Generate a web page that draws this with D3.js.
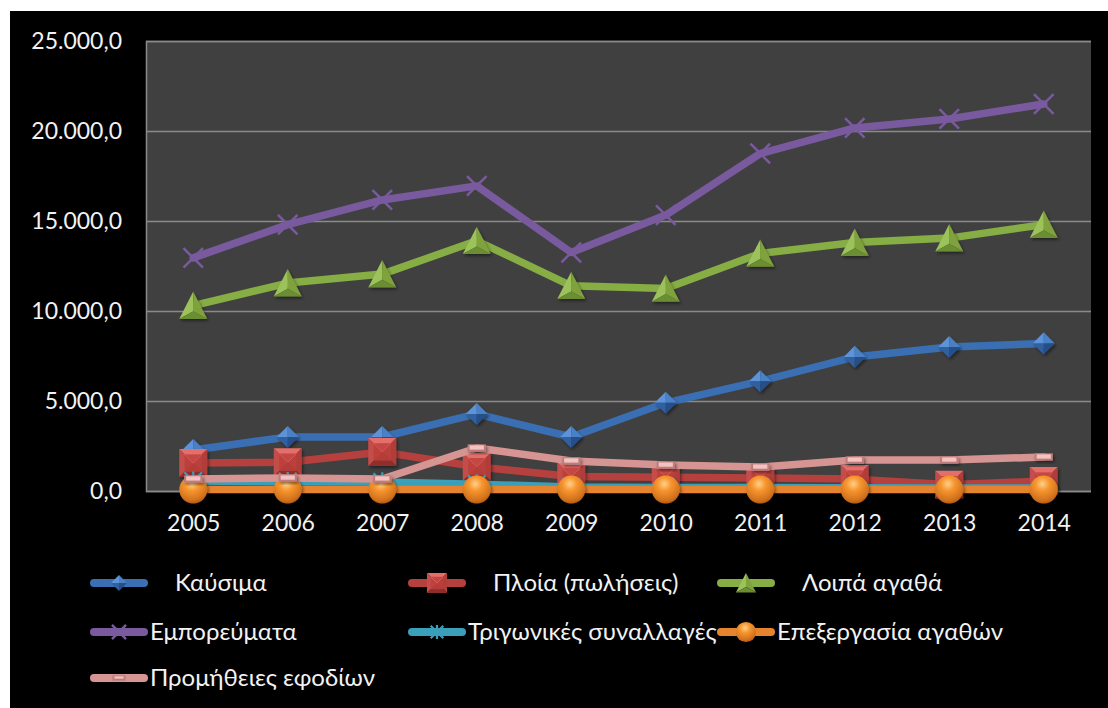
<!DOCTYPE html>
<html>
<head>
<meta charset="utf-8">
<script src="https://cdn.jsdelivr.net/npm/d3@7"></script>
<style>
  html, body { margin: 0; padding: 0; background: #ffffff; }
  svg { display: block; }
  text { font-family: Lato, "Open Sans", sans-serif; fill: #f2f2f2; }
</style>
</head>
<body>
<svg id="chart" width="1108" height="708"></svg>
<script>
// Years on the category axis
const years = ["2005", "2006", "2007", "2008", "2009", "2010", "2011", "2012", "2013", "2014"];

// Series values (εκατ. ευρώ)
const kafsima      = [2280, 3000, 3000, 4280, 3000, 4900, 6100, 7450, 8000, 8200];
const ploia        = [1550, 1600, 2170, 1350, 800, 760, 720, 660, 350, 550];
const loipa        = [10300, 11550, 12050, 13900, 11400, 11250, 13200, 13800, 14050, 14800];
const emporevmata  = [12950, 14800, 16170, 16950, 13250, 15330, 18750, 20170, 20670, 21500];
const trigonikes   = [550, 520, 500, 380, 220, 200, 200, 180, 170, 170];
const epexergasia  = [80, 80, 80, 80, 80, 80, 80, 80, 80, 80];
const promitheies  = [670, 720, 670, 2390, 1670, 1440, 1330, 1720, 1720, 1890];

const seriesNames = ["Καύσιμα", "Πλοία (πωλήσεις)", "Λοιπά αγαθά", "Εμπορεύματα",
                     "Τριγωνικές συναλλαγές", "Επεξεργασία αγαθών", "Προμήθειες εφοδίων"];
const seriesValues = [kafsima, ploia, loipa, emporevmata, trigonikes, epexergasia, promitheies];

// Y axis ticks
const yTicks = [0, 5000, 10000, 15000, 20000, 25000];

const colors  = ["#3b6fb4", "#b5403e", "#87ad45", "#7a5a9f", "#3a9fb8", "#e5832f", "#d69593"];
const markers = ["diamond", "square", "triangle", "cross", "star", "circle", "dash"];

const svg = d3.select("#chart");
const defs = svg.append("defs");

// Orange sphere gradient
const rg = defs.append("radialGradient").attr("id", "sphere")
  .attr("cx", "45%").attr("cy", "30%").attr("r", "70%");
rg.append("stop").attr("offset", "0%").attr("stop-color", "#ffd08a");
rg.append("stop").attr("offset", "35%").attr("stop-color", "#f7962f");
rg.append("stop").attr("offset", "85%").attr("stop-color", "#d0701c");
rg.append("stop").attr("offset", "100%").attr("stop-color", "#b35c12");

const shadow = defs.append("filter").attr("id", "shadow")
  .attr("x", "-30%").attr("y", "-30%").attr("width", "170%").attr("height", "170%");
shadow.append("feDropShadow").attr("dx", 1.5).attr("dy", 2).attr("stdDeviation", 1.5)
  .attr("flood-color", "#000").attr("flood-opacity", 0.45);

// Outer black chart area
svg.append("rect").attr("x", 10).attr("y", 11).attr("width", 1098).attr("height", 697).attr("fill", "#000");

const plot = { left: 146, right: 1091, top: 41, bottom: 491 };

const x = d3.scalePoint().domain(years).range([plot.left, plot.right]).padding(0.5);
const y = d3.scaleLinear().domain([0, 25000]).range([plot.bottom, plot.top]);

// Plot background
svg.append("rect")
  .attr("x", plot.left).attr("y", plot.top)
  .attr("width", plot.right - plot.left).attr("height", plot.bottom - plot.top)
  .attr("fill", "#404040");

// Horizontal gridlines and left axis
const yAxis = d3.axisLeft(y).tickValues(yTicks)
  .tickSize(-(plot.right - plot.left)).tickPadding(24)
  .tickFormat(d => d3.format(",.1f")(d).replace(/,/g, "#").replace(".", ",").replace(/#/g, "."));
const gy = svg.append("g").attr("transform", `translate(${plot.left},0)`).call(yAxis);
gy.select(".domain").attr("stroke", "#8a8a8a").attr("stroke-width", 1.5);
gy.selectAll(".tick line").attr("stroke", "#8a8a8a").attr("stroke-width", 1.5);
gy.selectAll(".tick text").attr("font-size", 23).attr("fill", "#f2f2f2")
  .attr("font-family", "Lato, 'Open Sans', sans-serif");

// Category labels
const xAxis = d3.axisBottom(x).tickSize(0).tickPadding(24);
const gx = svg.append("g").attr("transform", `translate(0,${plot.bottom})`).call(xAxis);
gx.select(".domain").remove();
gx.selectAll(".tick text").attr("font-size", 23).attr("fill", "#f2f2f2")
  .attr("font-family", "Lato, 'Open Sans', sans-serif");

// Marker drawing with faceted, bevelled look
function drawMarker(g, type, color, s) {
  const h = s / 2;
  if (type === "diamond") {
    const a = h * 0.85;
    const facets = [
      [[0, -a], [-a, 0], [0, 0], "#5d93d8"],
      [[0, -a], [a, 0], [0, 0], "#4a80c6"],
      [[-a, 0], [0, a], [0, 0], "#30609f"],
      [[a, 0], [0, a], [0, 0], "#264f88"]
    ];
    facets.forEach(f => g.append("path").attr("d", `M${f[0]}L${f[1]}L${f[2]}Z`).attr("fill", f[3]));
  } else if (type === "square") {
    const facets = [
      [[-h, -h], [h, -h], "#e66e6a"],
      [[h, -h], [h, h], "#b13e3b"],
      [[h, h], [-h, h], "#8f2d2b"],
      [[-h, h], [-h, -h], "#c44d4a"]
    ];
    facets.forEach(f => g.append("path").attr("d", `M${f[0]}L${f[1]}L0,0Z`).attr("fill", f[2]));
    g.append("rect").attr("x", -h * 0.62).attr("y", -h * 0.62).attr("width", h * 1.24).attr("height", h * 1.24)
      .attr("fill", "#bc3f3c").attr("opacity", 0.85);
    g.append("path").attr("d", `M${-h * 0.62},${-h * 0.62}L0,0L${h * 0.62},${-h * 0.62}`)
      .attr("fill", "none").attr("stroke", "#d85a57").attr("stroke-width", 1);
  } else if (type === "triangle") {
    const t = [0, -h], l = [-h, h * 0.95], r = [h, h * 0.95], c = [0, h * 0.4];
    g.append("path").attr("d", `M${t}L${l}L${c}Z`).attr("fill", "#9cc25c");
    g.append("path").attr("d", `M${t}L${r}L${c}Z`).attr("fill", "#7fa23d");
    g.append("path").attr("d", `M${l}L${r}L${c}Z`).attr("fill", "#6c8e32");
  } else if (type === "cross") {
    const a = h * 0.85;
    g.append("path").attr("d", `M${-a},${-a}L${a},${a}M${a},${-a}L${-a},${a}`)
      .attr("stroke", color).attr("stroke-width", 2.5).attr("fill", "none");
  } else if (type === "star") {
    const a = h * 0.8;
    g.append("path").attr("d", `M${-a},${-a}L${a},${a}M${a},${-a}L${-a},${a}M0,${-a * 1.1}L0,${a * 1.1}`)
      .attr("stroke", color).attr("stroke-width", 2.2).attr("fill", "none");
  } else if (type === "circle") {
    g.append("circle").attr("r", h).attr("fill", "url(#sphere)");
  } else if (type === "dash") {
    const w = s * 0.65, hh = s * 0.26;
    g.append("rect").attr("x", -w / 2).attr("y", -hh / 2).attr("width", w).attr("height", hh)
      .attr("fill", "#c07c7a");
    g.append("rect").attr("x", -w / 2 + 2).attr("y", -hh / 2 + 1).attr("width", w - 4).attr("height", hh - 3)
      .attr("fill", "#f2c3c2");
  }
}

const markerSize = [26, 28, 28, 23, 22, 28, 28];

const line = d3.line().x((d, i) => x(years[i])).y(d => y(d));

seriesValues.forEach((vals, si) => {
  const g = svg.append("g");
  g.append("path").datum(vals).attr("d", line)
    .attr("fill", "none").attr("stroke", colors[si]).attr("stroke-width", 7.5)
    .attr("stroke-linejoin", "round").attr("stroke-linecap", "round");
  vals.forEach((v, i) => {
    const mg = g.append("g").attr("transform", `translate(${x(years[i])},${y(v)})`)
      .attr("filter", markers[si] === "cross" || markers[si] === "star" ? null : "url(#shadow)");
    drawMarker(mg, markers[si], colors[si], markerSize[si]);
  });
});

// Legend: three entries per row
const legendCols = [90, 408, 717];
const legendRows = [583, 632, 678];
const symW = 58;
seriesNames.forEach((name, si) => {
  const col = si % 3, row = Math.floor(si / 3);
  const x0 = legendCols[col], y0 = legendRows[row];
  const g = svg.append("g");
  g.append("line").attr("x1", x0 + 4).attr("x2", x0 + symW - 4).attr("y1", y0).attr("y2", y0)
    .attr("stroke", colors[si]).attr("stroke-width", 8).attr("stroke-linecap", "round");
  const mg = g.append("g").attr("transform", `translate(${x0 + symW / 2},${y0})`);
  drawMarker(mg, markers[si], colors[si], markerSize[si] * 0.72);
  const gap = row === 0 ? 27 : 2;
  g.append("text").attr("x", x0 + symW + gap).attr("y", y0).attr("dy", "0.35em")
    .attr("font-size", 24).text(name);
});
</script>
</body>
</html>
